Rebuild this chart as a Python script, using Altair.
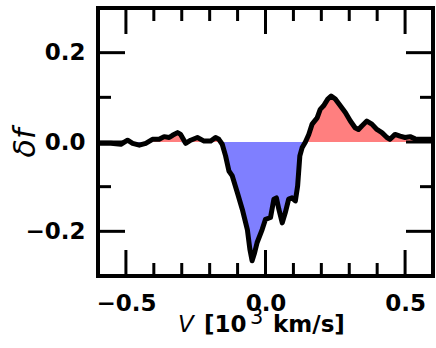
import altair as alt
import pandas as pd

# ---- data ----
V = [-0.600, -0.589, -0.554, -0.518, -0.494, -0.476, -0.452, -0.429, -0.405, -0.381,
     -0.363, -0.345, -0.333, -0.315, -0.304, -0.286, -0.268, -0.244, -0.220, -0.196,
     -0.179, -0.167, -0.155, -0.143, -0.131, -0.119, -0.101, -0.083, -0.065, -0.056,
     -0.048, -0.039, -0.030, -0.012, 0.000, 0.018, 0.030, 0.039, 0.048, 0.060,
     0.071, 0.083, 0.095, 0.107, 0.115, 0.123, 0.131, 0.143, 0.155, 0.167,
     0.185, 0.196, 0.208, 0.223, 0.235, 0.250, 0.268, 0.286, 0.304, 0.321,
     0.333, 0.345, 0.363, 0.381, 0.399, 0.417, 0.435, 0.446, 0.464, 0.482,
     0.500, 0.518, 0.536, 0.565, 0.595, 0.600]
F = [-0.003, -0.003, -0.003, -0.005, 0.004, -0.003, -0.007, -0.003, 0.006, 0.006,
     0.012, 0.010, 0.015, 0.021, 0.017, -0.003, 0.004, 0.010, 0.002, 0.002,
     0.010, 0.006, -0.005, -0.031, -0.065, -0.076, -0.113, -0.151, -0.196, -0.240,
     -0.266, -0.248, -0.225, -0.196, -0.173, -0.169, -0.128, -0.125, -0.151, -0.181,
     -0.158, -0.128, -0.125, -0.132, -0.099, -0.031, -0.013, 0.000, 0.017, 0.040,
     0.054, 0.073, 0.081, 0.096, 0.103, 0.096, 0.081, 0.066, 0.047, 0.032,
     0.028, 0.036, 0.047, 0.040, 0.028, 0.021, 0.010, 0.006, 0.017, 0.013,
     0.010, 0.012, 0.007, 0.006, 0.006, 0.006]

x_major = [-0.5, 0.0, 0.5]
x_minor = [-0.4, -0.3, -0.2, -0.1, 0.1, 0.2, 0.3, 0.4]
y_major = [-0.2, 0.0, 0.2]
y_minor = [-0.1, 0.1]

W, H = 335, 268
FONT = "DejaVu Sans"

df = pd.DataFrame({"V": V, "f": F})
df["fpos"] = df["f"].clip(lower=0)
df["fneg"] = df["f"].clip(upper=0)

xs = alt.Scale(domain=[-0.6, 0.6], nice=False, zero=False)
ys = alt.Scale(domain=[-0.3, 0.3], nice=False, zero=False)

lab = "replace(format(datum.value, '.1f'), '-', '\u2212')"

xax = alt.Axis(values=x_major, domain=False, ticks=False, grid=False, title=None,
               labelFont=FONT, labelFontWeight="bold", labelFontSize=23, labelColor="black",
               labelPadding=16, labelExpr=lab)
yax = alt.Axis(values=y_major, domain=False, ticks=False, grid=False, title=None,
               labelFont=FONT, labelFontWeight="bold", labelFontSize=23, labelColor="black",
               labelPadding=13, labelExpr=lab)

base = alt.Chart(df)

red = base.mark_area(color="#FF7F7F", clip=True).encode(
    x=alt.X("V:Q", scale=xs, axis=xax),
    y=alt.Y("fpos:Q", scale=ys, axis=yax, stack=None),
    y2=alt.datum(0),
)
blue = base.mark_area(color="#7F7FFF", clip=True).encode(
    x=alt.X("V:Q", scale=xs),
    y=alt.Y("fneg:Q", scale=ys, stack=None),
    y2=alt.datum(0),
)
line = base.mark_line(color="black", strokeWidth=5, clip=True, strokeJoin="round").encode(
    x=alt.X("V:Q", scale=xs),
    y=alt.Y("f:Q", scale=ys),
)

xt = pd.DataFrame({"v": x_major + x_minor, "len": [26] * len(x_major) + [13] * len(x_minor)})
yt = pd.DataFrame({"v": y_major + y_minor, "len": [27] * len(y_major) + [13] * len(y_minor)})

def tick_layers():
    layers = []
    tw = 3
    for L in [26, 13]:
        d = xt[xt["len"] == L]
        layers.append(alt.Chart(d).mark_rule(color="black", strokeWidth=tw).encode(
            x=alt.X("v:Q", scale=xs), y=alt.value(H), y2=alt.value(H - L)))
        layers.append(alt.Chart(d).mark_rule(color="black", strokeWidth=tw).encode(
            x=alt.X("v:Q", scale=xs), y=alt.value(0), y2=alt.value(L)))
    for L in [27, 13]:
        d = yt[yt["len"] == L]
        layers.append(alt.Chart(d).mark_rule(color="black", strokeWidth=tw).encode(
            y=alt.Y("v:Q", scale=ys), x=alt.value(0), x2=alt.value(L)))
        layers.append(alt.Chart(d).mark_rule(color="black", strokeWidth=tw).encode(
            y=alt.Y("v:Q", scale=ys), x=alt.value(W), x2=alt.value(W - L)))
    return layers

one = pd.DataFrame({"a": [0]})
frame = alt.Chart(one).mark_rect(filled=False, stroke="black", strokeWidth=4).encode(
    x=alt.value(0), x2=alt.value(W), y=alt.value(0), y2=alt.value(H))

def txt(s, x, y, size, weight="normal", style="normal", angle=0, align="left", baseline="alphabetic"):
    return alt.Chart(one).mark_text(text=s, font=FONT, fontSize=size, fontWeight=weight,
                                    fontStyle=style, angle=angle, align=align,
                                    baseline=baseline, color="black").encode(
        x=alt.value(x), y=alt.value(y))

titles = [
    txt("V", 80, 324, 23, style="italic"),
    txt("[10", 106, 324, 23, weight="bold"),
    txt("3", 152, 316, 21),
    txt("km/s]", 175, 324, 23, weight="bold"),
    txt("\u03b4f", -72, 135, 30, style="italic", angle=270, align="center", baseline="middle"),
]

chart = alt.layer(red, blue, line, *tick_layers(), frame, *titles).properties(
    width=W, height=H,
    autosize=alt.AutoSizeParams(type="none"),
    padding={"left": 98, "top": 8, "right": 3, "bottom": 72},
).configure_view(stroke=None).configure(background="white")

chart.save("out.html", embed_options={"renderer": "svg", "actions": False})
